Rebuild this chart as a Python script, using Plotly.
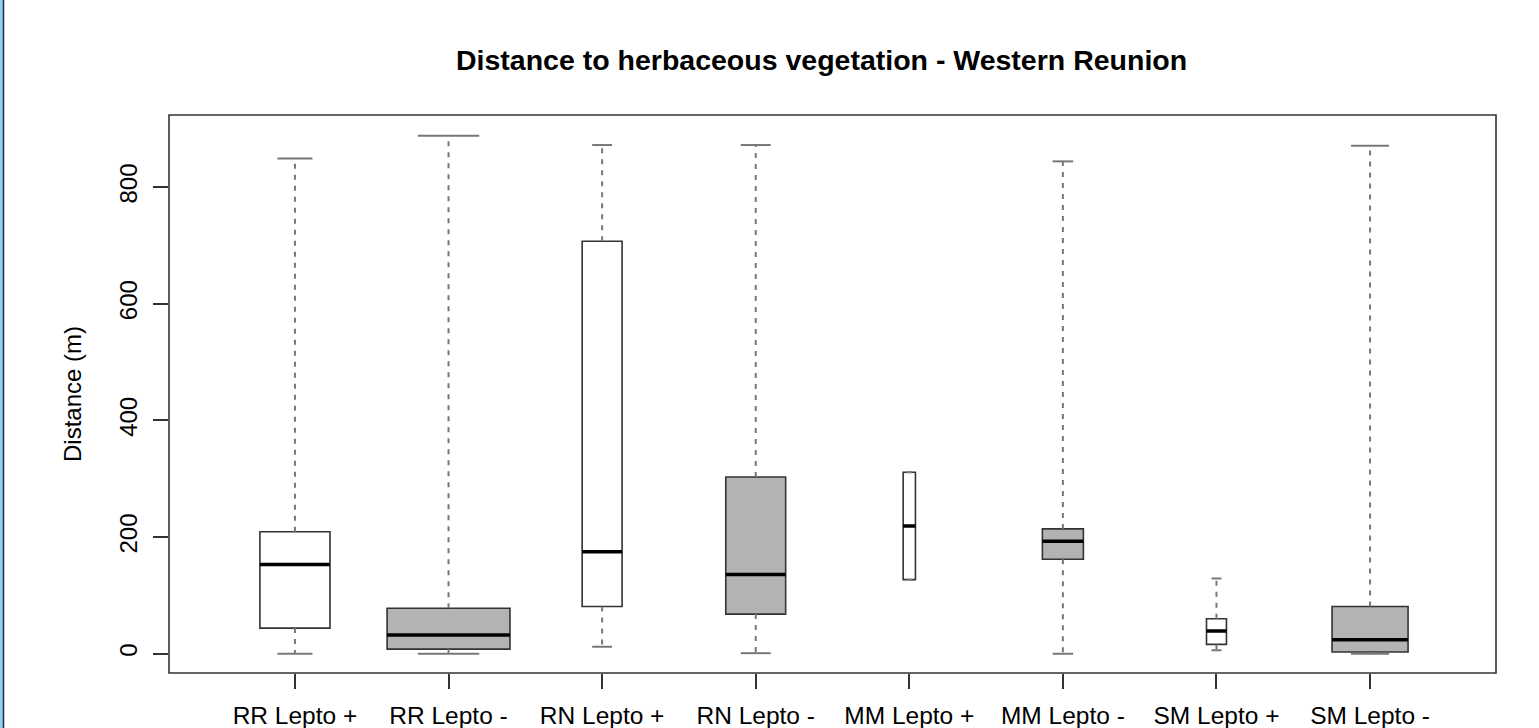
import plotly.graph_objects as go

# ---- data ----
categories = ["RR Lepto +", "RR Lepto -", "RN Lepto +", "RN Lepto -",
              "MM Lepto +", "MM Lepto -", "SM Lepto +", "SM Lepto -"]
lower_whisker = [0, 0, 12, 1, 127, 0, 6, 0]
q1_values = [44, 8, 81, 68, 127, 162, 16, 3]
median_values = [153, 32, 175, 136, 219, 193, 39, 24]
q3_values = [209, 78, 707, 303, 311, 214, 60, 81]
upper_whisker = [849, 888, 872, 872, 311, 844, 129, 871]
y_ticks = [0, 200, 400, 600, 800]

# ---- styles ----
box_widths = [0.456, 0.80, 0.26, 0.39, 0.08, 0.267, 0.13, 0.495]
fills = ["white", "#B3B3B3"] * 4
FONT = "Liberation Sans, Arial, Helvetica, sans-serif"
BORDER = "#333333"
WHISK = "#777777"

fig = go.Figure()
positions = list(range(1, len(categories) + 1))

for i, pos in enumerate(positions):
    w = box_widths[i]
    # dashed whiskers
    fig.add_trace(go.Scatter(
        x=[pos, pos, None, pos, pos],
        y=[q3_values[i], upper_whisker[i], None, q1_values[i], lower_whisker[i]],
        mode="lines", line=dict(color=WHISK, width=2, dash="5px,6px"),
        hoverinfo="skip", showlegend=False))
    # staples
    fig.add_trace(go.Scatter(
        x=[pos - w / 4, pos + w / 4, None, pos - w / 4, pos + w / 4],
        y=[upper_whisker[i], upper_whisker[i], None, lower_whisker[i], lower_whisker[i]],
        mode="lines", line=dict(color=WHISK, width=2),
        hoverinfo="skip", showlegend=False))
    # box
    fig.add_trace(go.Box(
        x=[pos], q1=[q1_values[i]], median=[median_values[i]], q3=[q3_values[i]],
        lowerfence=[q1_values[i]], upperfence=[q3_values[i]],
        width=w, fillcolor=fills[i], line=dict(color=BORDER, width=1.6),
        whiskerwidth=0, showlegend=False, name=categories[i], boxpoints=False))
    # thick median
    fig.add_trace(go.Scatter(
        x=[pos - w / 2, pos + w / 2], y=[median_values[i], median_values[i]],
        mode="lines", line=dict(color="black", width=3.5),
        hoverinfo="skip", showlegend=False))

fig.update_layout(
    width=1539, height=728,
    margin=dict(l=169, r=43, t=115, b=55, autoexpand=False),
    paper_bgcolor="white", plot_bgcolor="white",
    font=dict(family=FONT, size=24, color="black"),
    showlegend=False,
    xaxis=dict(range=[0.18, 8.82], tickmode="array", tickvals=positions,
               ticktext=categories, ticks="outside", ticklen=15, tickwidth=1.6,
               tickcolor=BORDER, showgrid=False, zeroline=False, showline=False,
               tickfont=dict(size=24.5), ticklabelstandoff=6, automargin=False),
    yaxis=dict(range=[-33, 923.5], tickmode="array", tickvals=y_ticks,
               ticks="outside", ticklen=15, tickwidth=1.6, tickcolor=BORDER,
               showgrid=False, zeroline=False, showline=False, tickangle=-90,
               tickfont=dict(size=24), ticklabelstandoff=6, automargin=False),
    shapes=[
        dict(type="rect", xref="paper", yref="paper", x0=0, y0=0, x1=1, y1=1,
             line=dict(color=BORDER, width=1.6), fillcolor="rgba(0,0,0,0)"),
        dict(type="rect", xref="paper", yref="paper",
             x0=-169 / 1327, x1=-166 / 1327, y0=-55 / 558, y1=673 / 558,
             line=dict(width=0), fillcolor="#8fd0ea"),
        dict(type="line", xref="paper", yref="paper",
             x0=-165.5 / 1327, x1=-165.5 / 1327, y0=-55 / 558, y1=673 / 558,
             line=dict(color="#1b2a48", width=1.5)),
    ],
    annotations=[
        dict(text="<b>Distance to herbaceous vegetation - Western Reunion</b>",
             xref="paper", yref="paper", x=0.492, y=(673 - 60) / 558,
             xanchor="center", yanchor="middle", showarrow=False,
             font=dict(size=28.5, family=FONT)),
        dict(text="Distance (m)", xref="paper", yref="paper",
             x=(72 - 169) / 1327, y=0.5, textangle=-90,
             xanchor="center", yanchor="middle", showarrow=False,
             font=dict(size=24, family=FONT)),
    ],
)

fig.write_html(
    "out.html",
    config={"displayModeBar": False},
    post_script="document.body.style.margin='0';document.body.style.overflow='hidden';",
)
